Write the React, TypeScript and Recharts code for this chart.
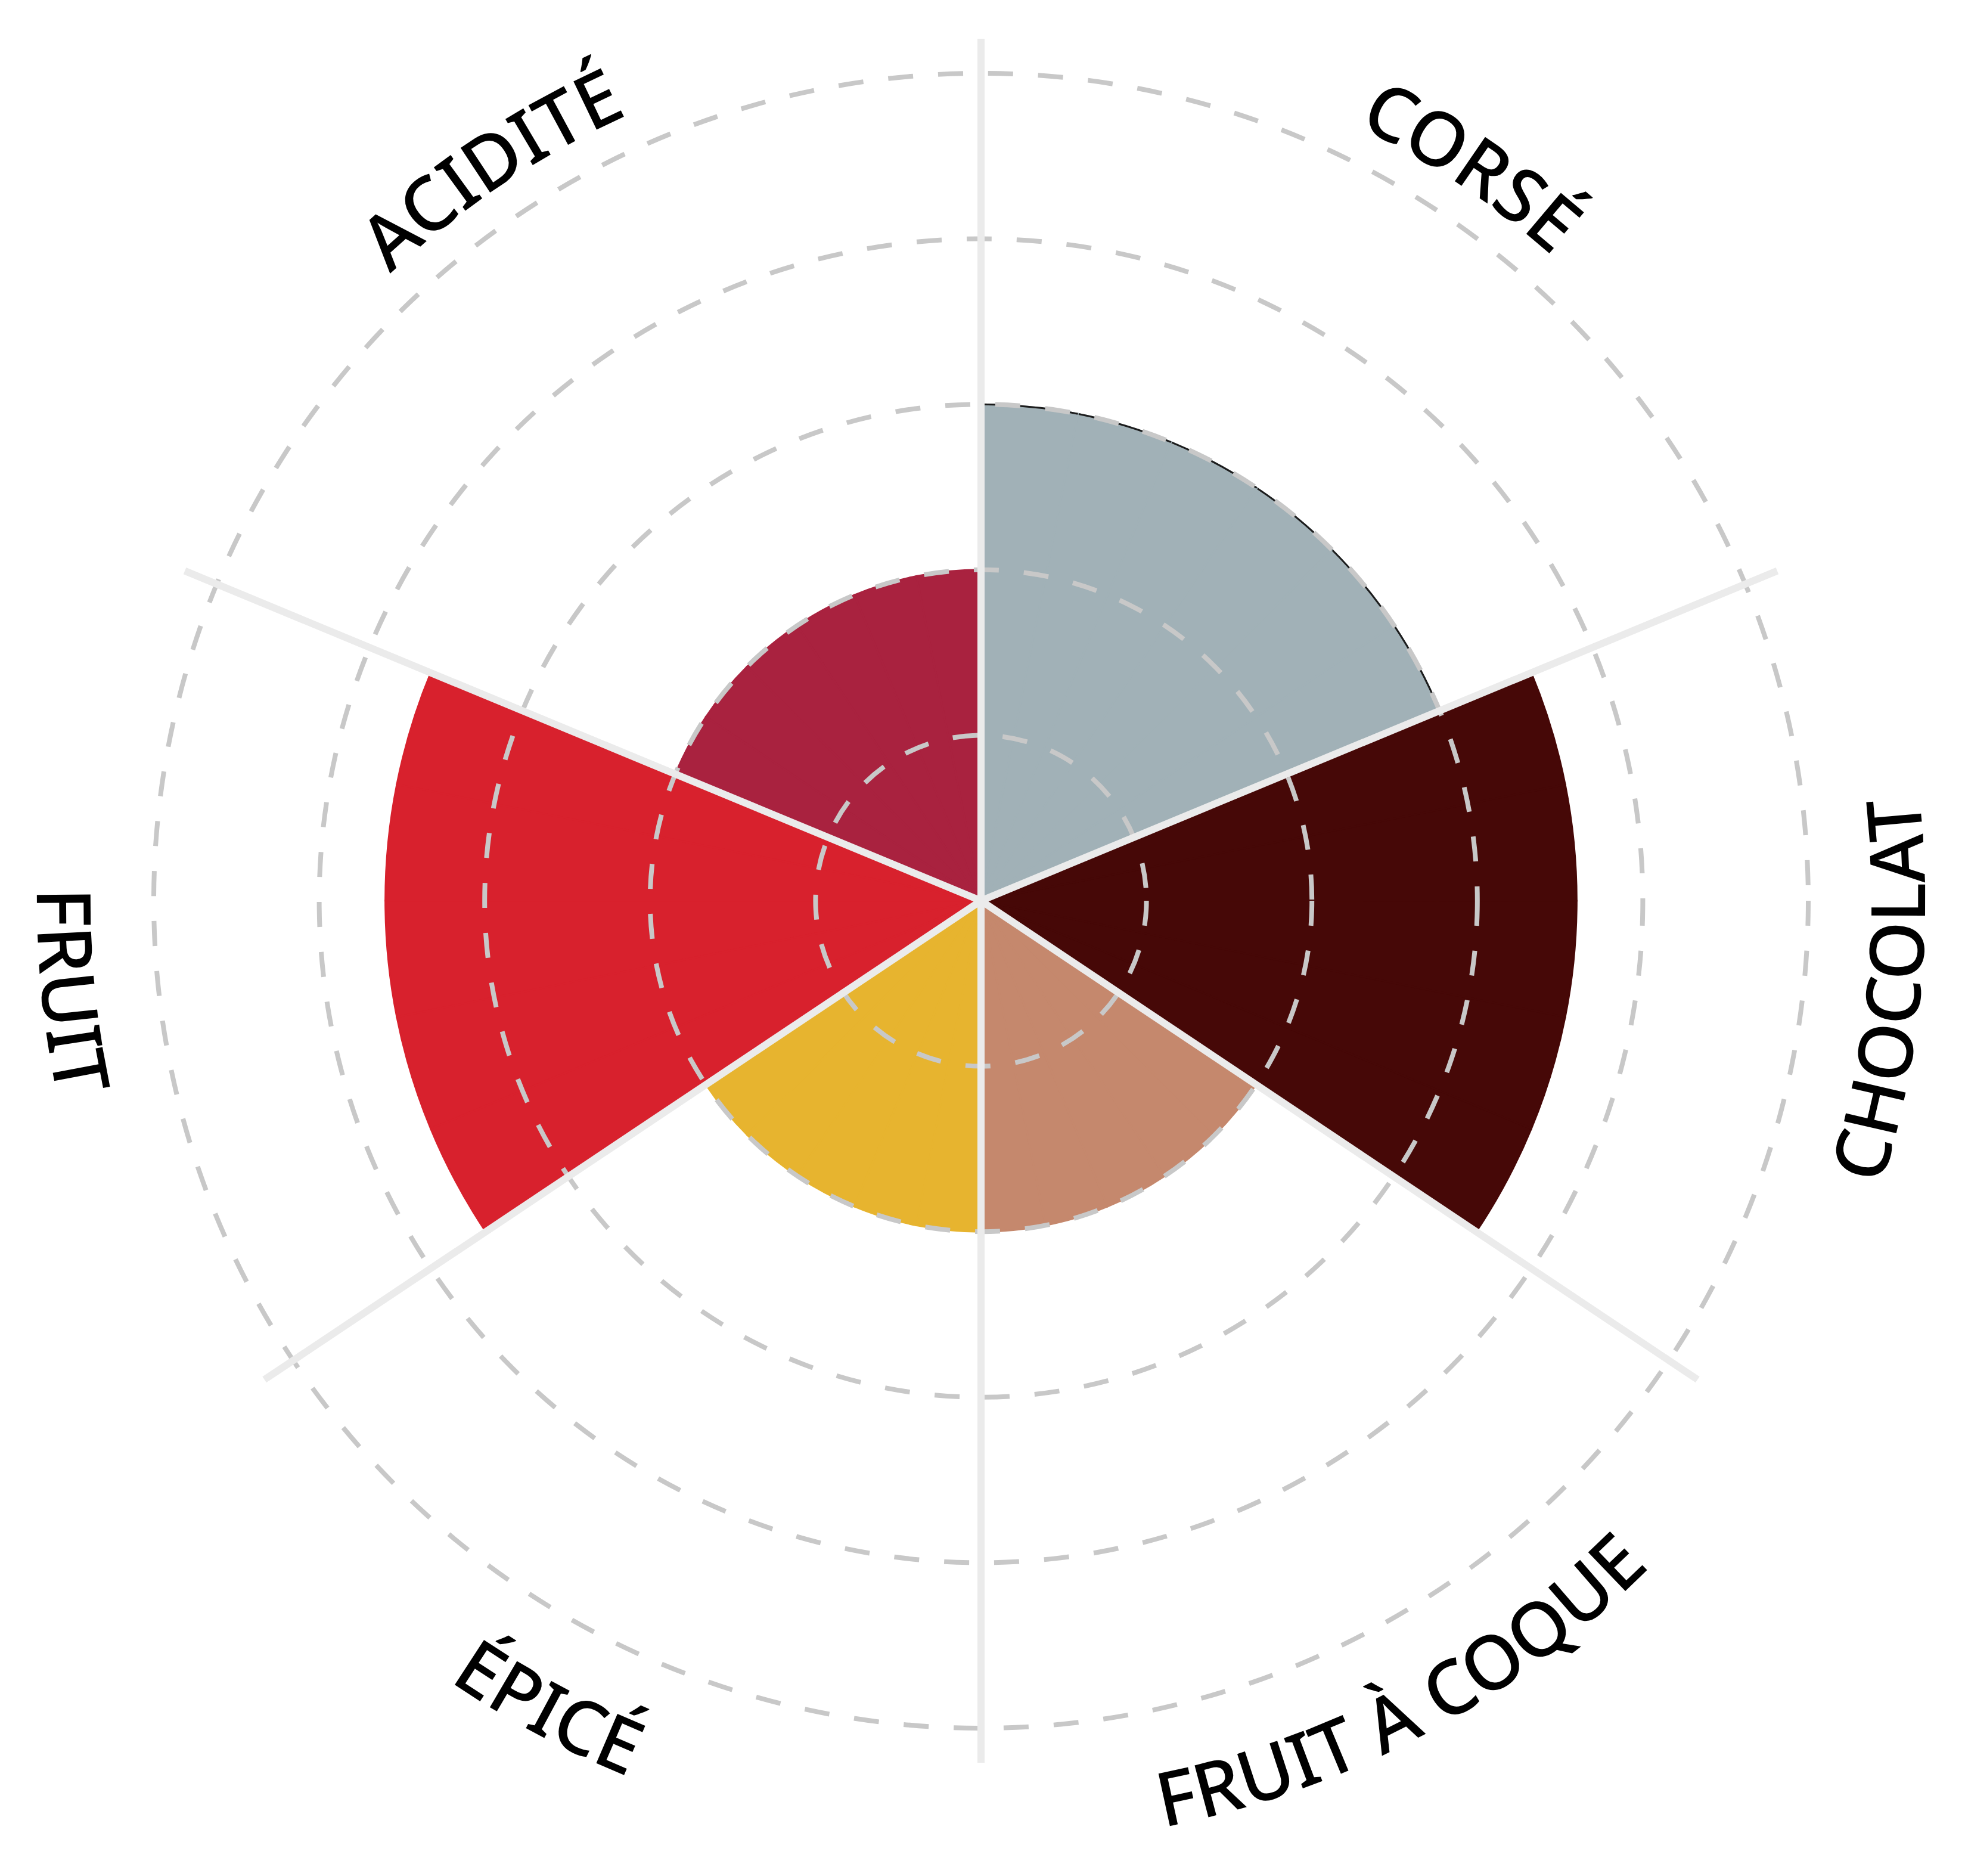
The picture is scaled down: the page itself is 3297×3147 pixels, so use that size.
import React from "react";
import {
  PolarAngleAxis,
  PolarGrid,
  PolarRadiusAxis,
  RadialBar,
  RadialBarChart,
  Sector,
} from "recharts";

// flavour profile, clockwise from 12 o'clock
const CATEGORIES = ["CORSÉ", "CHOCOLAT", "FRUIT À COQUE", "ÉPICÉ", "FRUIT", "ACIDITÉ"];
const SCORES = [3, 3.6, 2, 2, 3.6, 2];
// angular share of each sector (the two upper sectors are a bit wider)
const SPANS = [6, 5, 5, 5, 5, 6];
const COLORS = ["#a1b1b7", "#460807", "#c5886d", "#e7b42f", "#d8212d", "#a9223f"];
const RING_TICKS = [0, 1, 2, 3, 4, 5];

const W = 3297;
const H = 3147;
const CX = 1646;
const CY = 1511;
const R_MAX = 1388; // radius of score 5
const R_SPOKE = 1446;
const FONT = 126;
const LABEL_R_TOP = 1490;
const LABEL_R_BOTTOM = 1539;
const RAD = Math.PI / 180;

const TOTAL = SPANS.reduce((a, b) => a + b, 0);
const STARTS = SPANS.map((_, i) => SPANS.slice(0, i).reduce((a, b) => a + b, 0));
const SLOT_DEG = 360 / TOTAL;

// one slot per unit of angular share, so every sector goes through the band scale.
// the angle axis runs counter-clockwise, so the slots are listed in reverse.
const slots = CATEGORIES.flatMap((_, i) =>
  Array.from({ length: SPANS[i] }, (_, k) => ({ slot: `${i}-${k}`, cat: i, k, score: SCORES[i] })),
).reverse();
const slotByKey: Record<string, { cat: number; k: number }> = {};
slots.forEach((s) => (slotByKey[s.slot] = s));

const boundaryAngles = STARTS.map((s) => 90 - (s / TOTAL) * 360);
const centerAngle = (i: number) => 90 - ((STARTS[i] + SPANS[i] / 2) / TOTAL) * 360;

const polar = (r: number, deg: number, cx = CX, cy = CY) => [
  cx + r * Math.cos(deg * RAD),
  cy - r * Math.sin(deg * RAD),
];

// same-colour outline hides the hairline seams between slots of one sector;
// the corsé sector also carries a thin dark rim on its arc
const SlotSector = (props: any) => {
  const cat = props.payload?.cat ?? 0;
  const c = COLORS[cat];
  let rim = null;
  if (cat === 0) {
    const { cx, cy, outerRadius: r, startAngle, endAngle } = props;
    const [x0, y0] = polar(r, startAngle, cx, cy);
    const [x1, y1] = polar(r, endAngle, cx, cy);
    rim = (
      <path
        d={`M ${x0} ${y0} A ${r} ${r} 0 0 ${endAngle < startAngle ? 1 : 0} ${x1} ${y1}`}
        fill="none"
        stroke="#1c1c1c"
        strokeWidth={3}
      />
    );
  }
  return (
    <g>
      <Sector {...props} fill={c} stroke={c} strokeWidth={3} />
      {rim}
    </g>
  );
};

const LabelTick = (props: any) => {
  const s = slotByKey[props?.payload?.value];
  if (!s || s.k !== 0) return <g />;
  const i = s.cat;
  const a = centerAngle(i);
  const top = Math.sin(a * RAD) > 0;
  const capH = FONT * 0.714;
  const r = top ? LABEL_R_TOP - capH / 2 : LABEL_R_BOTTOM + capH / 2;
  const [x0, y0] = polar(r, top ? a + 80 : a - 80);
  const [x1, y1] = polar(r, top ? a - 80 : a + 80);
  const id = `flavour-arc-${i}`;
  return (
    <g>
      <path id={id} d={`M ${x0} ${y0} A ${r} ${r} 0 0 ${top ? 1 : 0} ${x1} ${y1}`} fill="none" stroke="none" />
      <text
        fontFamily="'Noto Sans', 'Open Sans', sans-serif"
        fontSize={FONT}
        fontWeight={500}
        fill="#000"
        textAnchor="middle"
      >
        <textPath href={`#${id}`} startOffset="50%">
          {CATEGORIES[i]}
        </textPath>
      </text>
    </g>
  );
};

const layer: React.CSSProperties = { position: "absolute", left: 0, top: 0 };

// on a full circle recharts lays centric bars one band back, so the circle starts one slot on
const chartProps = {
  width: W,
  height: H,
  cx: CX,
  cy: CY,
  innerRadius: 0,
  startAngle: -270 + SLOT_DEG,
  endAngle: 90 + SLOT_DEG,
  layout: "centric" as const,
  data: slots,
  barCategoryGap: "0%",
  barGap: 0,
  margin: { top: 0, right: 0, bottom: 0, left: 0 },
};

export default function App() {
  return (
    <div style={{ position: "relative", width: W, height: H, background: "#fff" }}>
      <style>{"body{margin:0;background:#fff}"}</style>

      {/* sectors */}
      <div style={layer}>
        <RadialBarChart {...chartProps} outerRadius={R_MAX}>
          <PolarAngleAxis type="category" dataKey="slot" tick={false} axisLine={false} tickLine={false} />
          <PolarRadiusAxis type="number" domain={[0, 5]} tick={false} axisLine={false} />
          <RadialBar
            dataKey="score"
            barSize={SLOT_DEG - 0.01}
            shape={SlotSector}
            isAnimationActive={false}
          />
        </RadialBarChart>
      </div>

      {/* dashed score rings */}
      <div style={layer}>
        <RadialBarChart {...chartProps} outerRadius={R_MAX}>
          <PolarAngleAxis type="category" dataKey="slot" tick={false} axisLine={false} tickLine={false} />
          <PolarRadiusAxis
            type="number"
            domain={[0, 5]}
            ticks={RING_TICKS}
            tickCount={6}
            tick={false}
            axisLine={false}
          />
          <PolarGrid
            gridType="circle"
            radialLines={false}
            stroke="#c8c8c8"
            strokeWidth={8}
            strokeDasharray="42 42"
          />
          <RadialBar dataKey="score" fill="none" stroke="none" isAnimationActive={false} />
        </RadialBarChart>
      </div>

      {/* spokes and labels */}
      <div style={layer}>
        <RadialBarChart {...chartProps} outerRadius={R_SPOKE}>
          <PolarAngleAxis
            type="category"
            dataKey="slot"
            tick={LabelTick}
            axisLine={false}
            tickLine={false}
          />
          <PolarRadiusAxis type="number" domain={[0, 5]} tick={false} axisLine={false} />
          <PolarGrid
            gridType="circle"
            polarRadius={[]}
            polarAngles={boundaryAngles}
            stroke="#ebebeb"
            strokeWidth={12}
          />
        </RadialBarChart>
      </div>
    </div>
  );
}
